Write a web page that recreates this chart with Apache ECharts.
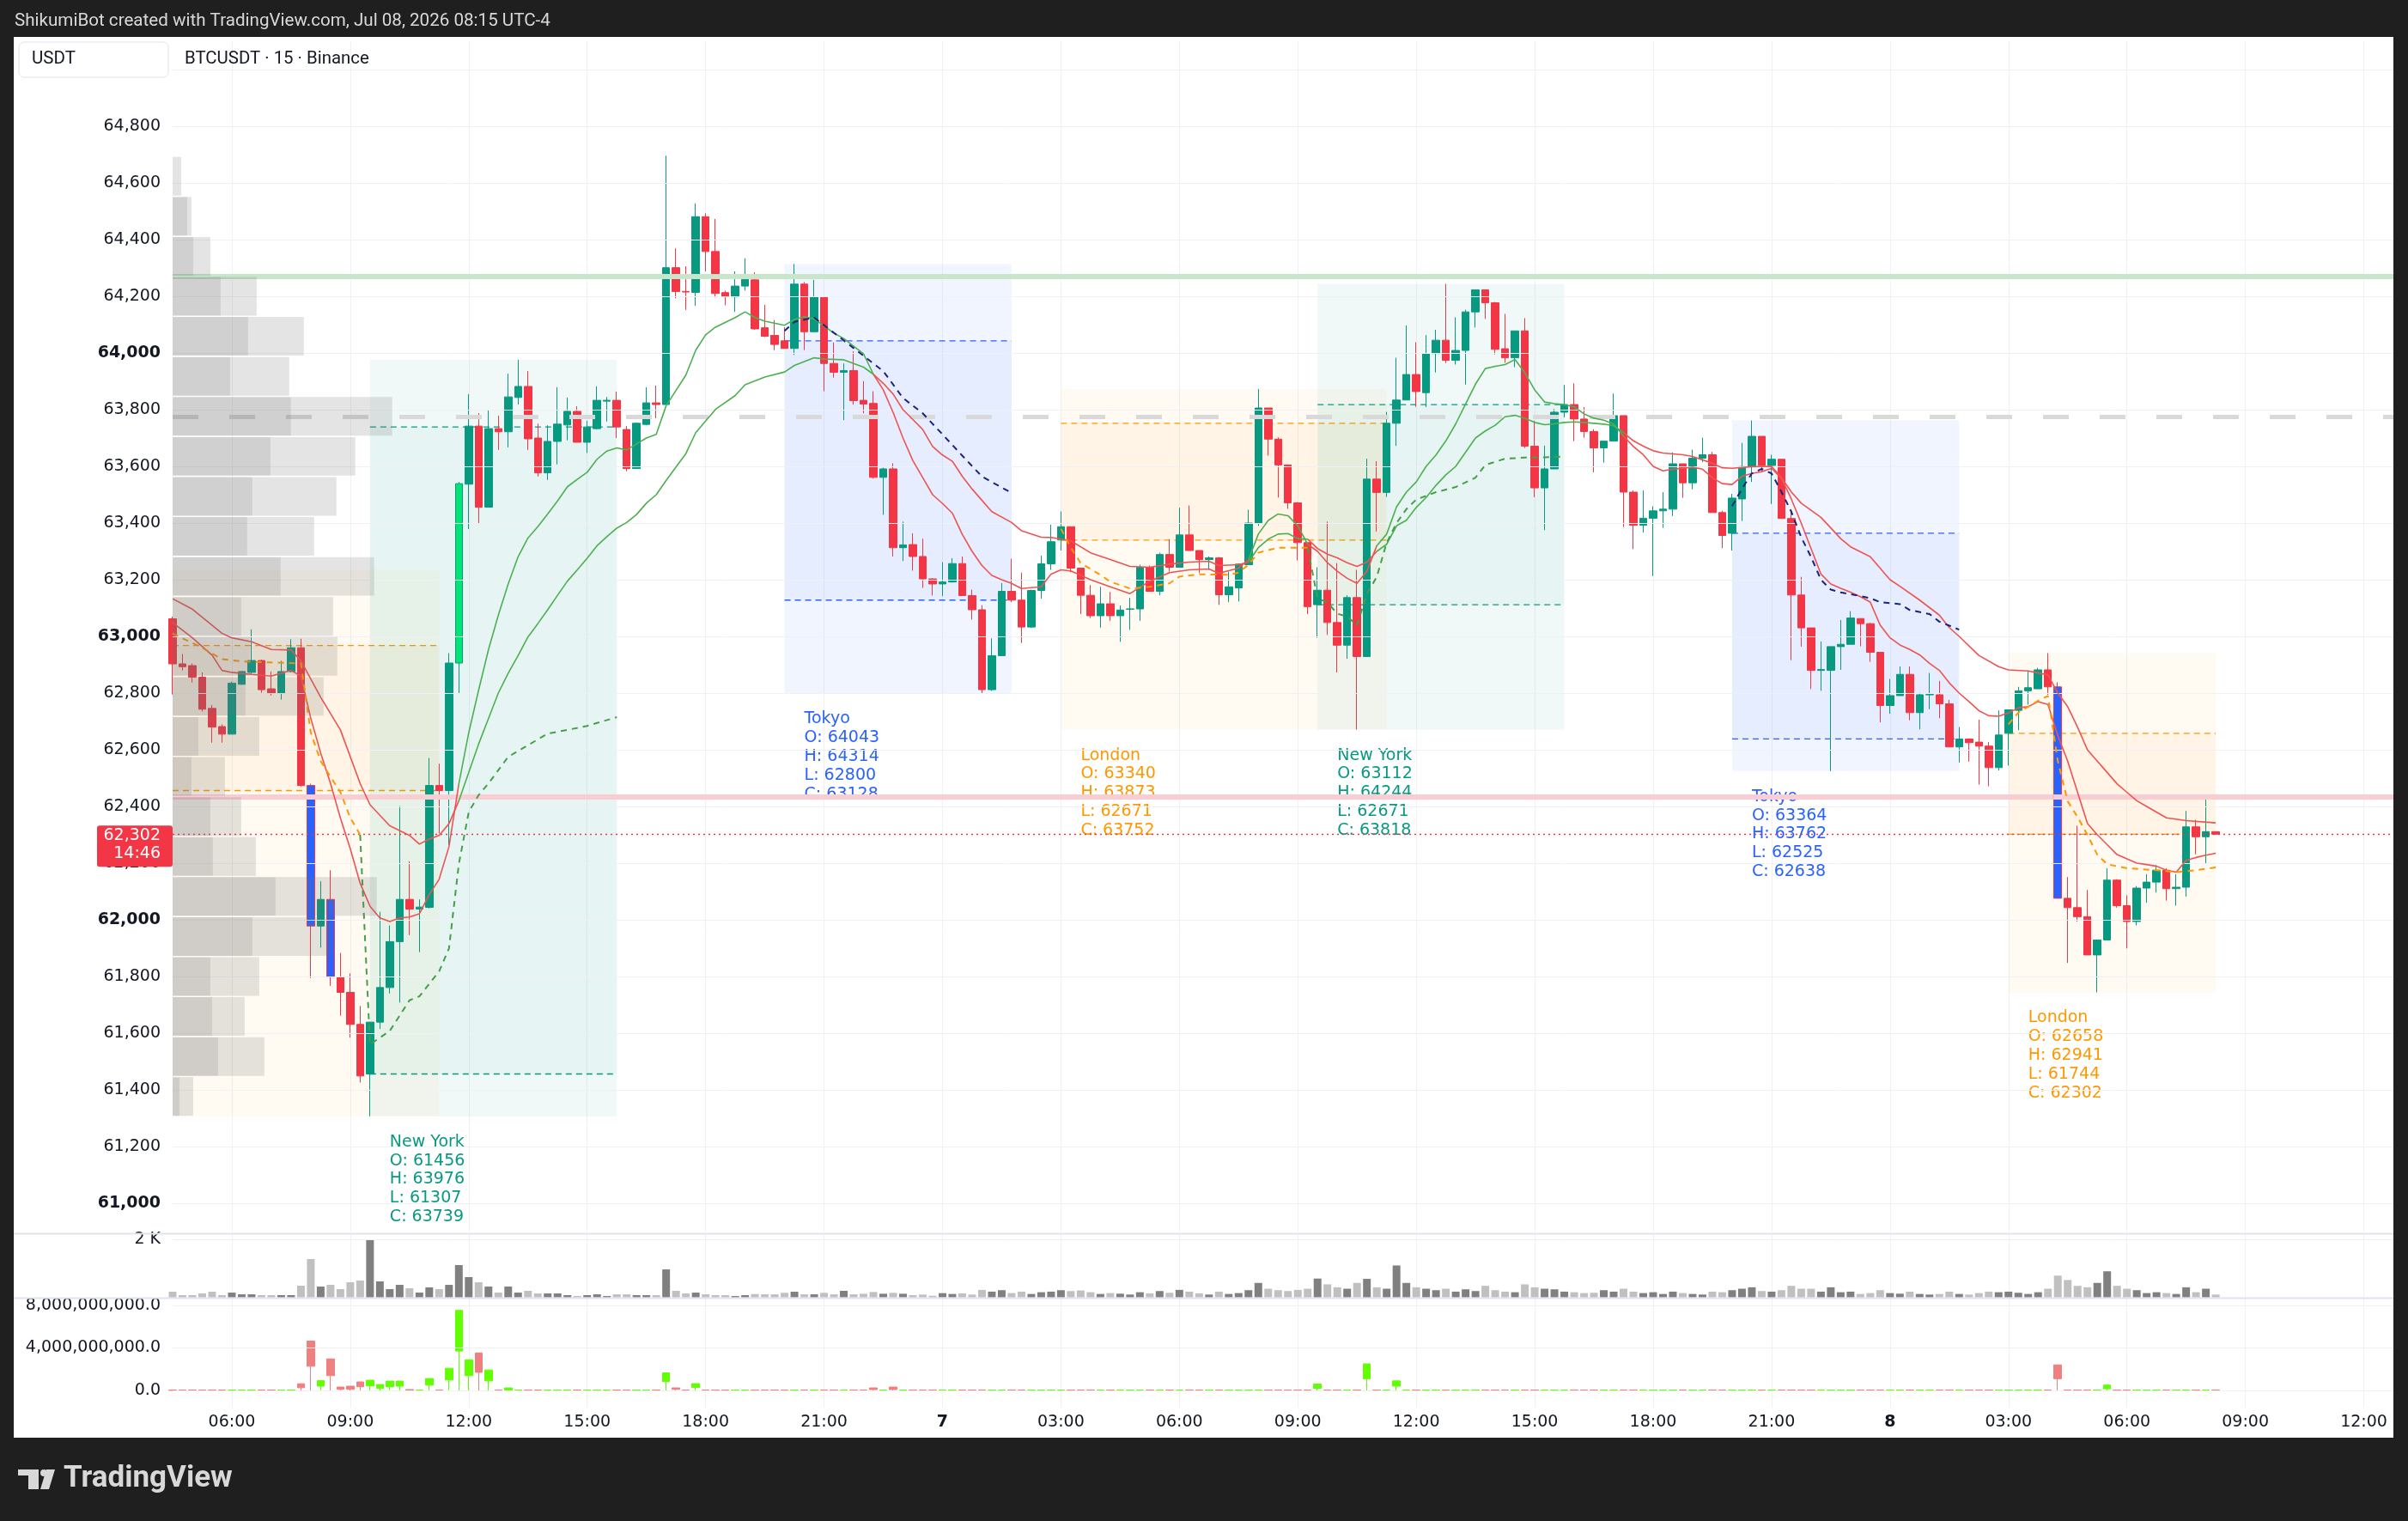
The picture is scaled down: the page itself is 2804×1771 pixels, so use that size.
<!DOCTYPE html>
<html><head><meta charset="utf-8">
<script src="https://cdn.jsdelivr.net/npm/echarts@6/dist/echarts.min.js"></script>
<style>
html,body{margin:0;padding:0;background:#1f1f1f;width:2804px;height:1771px;overflow:hidden}
#paper{position:absolute;left:16px;top:43px;width:2771px;height:1631px;background:#fff}
#chart{position:absolute;left:0;top:0;width:2787px;height:1771px}
</style></head><body>
<div id="paper"></div>
<div id="chart"></div>
<script>
// ---------------- DATA ----------------
// 15-minute bars, bar 0 = Jul 6 04:30 (UTC-4)
const candleOpen = [63062,62903,62897,62856,62746,62682,62655,62831,62873,62915,62815,62799,62876,62960,62474,61978,62072,61798,61744,61631,61456,61639,61761,61923,62072,62038,62044,62474,62456,62906,63537,63742,63456,63733,63722,63843,63882,63700,63577,63688,63746,63794,63685,63733,63830,63833,63730,63592,63748,63824,63818,64301,64217,64214,64481,64358,64213,64198,64236,64258,64089,64062,64043,64016,64243,64075,64197,63963,63932,63938,63833,63822,63561,63591,63313,63324,63282,63203,63185,63192,63257,63144,63094,62812,62932,63159,63128,63033,63162,63256,63340,63387,63241,63145,63073,63115,63073,63096,63097,63244,63159,63289,63244,63358,63303,63271,63277,63147,63171,63253,63400,63806,63696,63605,63471,63331,63112,63163,63049,62969,63137,62929,63555,63508,63752,63834,63924,63860,63998,64045,63974,64009,64145,64223,64177,64015,63983,64078,63671,63524,63591,63791,63818,63767,63723,63665,63689,63779,63509,63392,63417,63443,63449,63609,63542,63629,63641,63437,63364,63485,63599,63706,63603,63625,63416,63146,63030,62880,62880,62964,62972,63063,63045,62944,62756,62791,62866,62731,62794,62794,62762,62610,62638,62627,62613,62537,62658,62739,62808,62815,62882,62822,62076,62043,62011,61876,61929,62140,62050,61994,62112,62133,62175,62110,62115,62328,62293,62311];
const candleClose = [62903,62893,62856,62743,62680,62655,62835,62876,62915,62812,62799,62876,62960,62474,61978,62072,61798,61744,61631,61449,61639,61761,61923,62072,62038,62045,62474,62456,62906,63539,63742,63456,63733,63722,63845,63882,63697,63577,63688,63749,63794,63685,63739,63833,63833,63739,63592,63752,63824,63818,64301,64217,64215,64481,64358,64210,64200,64236,64260,64085,64059,64030,64016,64243,64075,64197,63963,63932,63938,63832,63820,63561,63591,63313,63323,63282,63203,63185,63192,63257,63144,63094,62812,62932,63159,63128,63033,63162,63256,63334,63387,63241,63145,63073,63115,63073,63093,63097,63244,63159,63289,63244,63358,63303,63271,63277,63147,63175,63255,63400,63806,63696,63605,63471,63331,63105,63163,63049,62969,63137,62929,63555,63508,63752,63834,63924,63864,63998,64045,63974,64009,64145,64223,64177,64013,63983,64078,63671,63524,63591,63791,63818,63767,63723,63665,63689,63779,63509,63392,63417,63443,63449,63609,63542,63629,63641,63437,63356,63488,63599,63706,63603,63625,63416,63146,63030,62880,62883,62964,62972,63065,63045,62944,62756,62791,62866,62731,62794,62795,62762,62610,62638,62625,62613,62537,62652,62741,62808,62819,62882,62822,62076,62043,62011,61876,61929,62140,62050,61994,62112,62133,62175,62110,62115,62328,62293,62311,62302];
const candleHigh = [63070,62938,62905,62873,62758,62690,62840,62878,63025,62918,62876,62914,62990,62992,62480,62136,62175,61883,61811,61696,61640,62028,61980,62402,62206,62072,62571,62551,62941,63545,63855,63788,63797,63779,63927,63976,63936,63751,63745,63879,63843,63812,63761,63882,63845,63864,63742,63754,63879,63885,64696,64369,64306,64528,64493,64473,64220,64288,64334,64285,64170,64116,64091,64314,64250,64258,64200,64037,63963,64006,63901,63865,63595,63611,63405,63364,63345,63205,63262,63276,63282,63165,63110,62993,63188,63274,63225,63165,63285,63394,63441,63387,63241,63181,63175,63157,63109,63136,63253,63250,63295,63343,63454,63462,63303,63282,63280,63229,63258,63447,63873,63806,63702,63605,63474,63331,63244,63405,63259,63145,63235,63627,63618,63792,63983,64097,64038,64063,64082,64244,64126,64153,64223,64223,64180,64138,64078,64123,63761,63673,63803,63887,63893,63809,63731,63689,63857,63779,63515,63515,63459,63509,63649,63609,63659,63701,63651,63443,63503,63683,63762,63706,63641,63625,63443,63210,63030,62982,62964,63058,63089,63063,63048,62944,62850,62894,62894,62801,62871,62843,62776,62680,62640,62706,62627,62739,62741,62822,62880,62889,62941,62838,62151,62332,62105,61929,62182,62143,62087,62119,62161,62193,62182,62161,62384,62353,62442,62312];
const candleLow = [62795,62880,62837,62735,62625,62625,62655,62829,62866,62801,62791,62777,62873,62470,61794,61902,61767,61662,61584,61426,61307,61615,61740,61708,61946,61886,62040,62305,62264,62798,63379,63397,63456,63658,63667,63818,63658,63564,63552,63607,63692,63685,63647,63730,63758,63700,63583,63592,63745,63770,63818,64193,64152,64166,64288,64196,64168,64145,64220,64082,64056,64010,64016,63993,64010,64075,63865,63913,63763,63818,63787,63557,63429,63282,63266,63232,63171,63144,63142,63190,63144,63059,62800,62808,62932,63121,62977,63030,63133,63235,63303,63226,63079,63065,63031,63055,62981,63023,63055,63159,63145,63229,63244,63303,63223,63235,63111,63121,63123,63253,63390,63638,63490,63450,63268,63079,62995,63005,62873,62921,62671,62929,63370,63492,63672,63834,63810,63809,63931,63965,63959,63889,64090,64120,63995,63965,63950,63665,63491,63375,63591,63773,63689,63701,63579,63613,63689,63386,63308,63366,63213,63383,63425,63489,63519,63615,63437,63312,63303,63407,63545,63579,63467,63416,62916,62964,62814,62808,62525,62882,62972,62965,62910,62697,62727,62791,62704,62672,62743,62711,62610,62555,62558,62477,62471,62527,62544,62669,62759,62815,62794,62075,61848,61994,61876,61744,61929,62043,61899,61980,62060,62096,62068,62050,62082,62231,62200,62300];
// volume (BTC) per bar
const volume = [197,79,79,138,197,79,167,108,108,79,79,79,79,404,1320,374,433,286,522,581,1970,552,286,433,315,167,345,286,433,1113,700,522,374,167,374,167,227,138,138,138,79,49,79,108,49,108,108,79,79,79,965,227,138,167,108,79,79,49,79,118,108,108,158,197,108,108,158,108,227,108,128,187,128,158,128,79,98,59,148,120,140,100,260,200,250,150,200,120,180,200,250,220,240,180,120,150,130,100,180,140,220,160,260,200,140,100,200,120,150,250,500,300,250,220,260,300,650,450,350,300,500,640,350,300,1100,500,350,300,250,300,200,280,220,400,250,200,180,450,350,300,280,200,180,150,160,250,200,300,200,150,180,120,200,150,120,100,200,180,250,300,350,220,200,250,400,300,300,200,350,180,200,120,150,250,150,130,200,120,100,120,200,120,100,150,200,180,200,160,120,180,300,750,600,400,350,500,900,400,300,250,150,180,150,120,350,180,300,100];
// lower pane (billions): [bar, bodyLow, bodyHigh]; unlisted bars are tiny (~0)
const deltaBars = [[13,0.25,0.63],[14,2.27,4.64],[15,0.4,0.93],[16,1.39,2.96],[17,0.1,0.32],[18,0.1,0.4],[19,0.35,0.8],[20,0.43,0.96],[21,0.19,0.56],[22,0.35,0.88],[23,0.4,0.88],[24,0,0.08],[26,0.5,1.12],[28,0.99,2.08],[29,3.7,7.52],[30,1.39,2.88],[31,1.7,3.52],[32,0.9,1.92],[34,0.03,0.24],[50,0.83,1.65],[51,0.1,0.24],[53,0.27,0.64],[71,0.08,0.24],[73,0.08,0.32],[116,0.2,0.6],[121,1.1,2.5],[124,0.4,0.9],[191,1.1,2.4],[196,0.15,0.5]];
const deltaTiny = 0.04;
// highlighted bars
const blueBars = [14,16,191];
const brightBars = [29];
// moving averages [bar, value]
const maFast = [[0,63049],[2,62995],[4,62934],[5,62880],[6,62873],[8,62866],[10,62860],[12,62880],[13,62860],[14,62711],[15,62589],[16,62481],[17,62359],[18,62251],[19,62129],[20,62048],[21,62007],[22,61994],[23,62007],[24,62010],[25,62021],[26,62089],[27,62143],[28,62258],[29,62480],[30,62660],[31,62810],[32,62953],[33,63075],[34,63185],[35,63281],[36,63347],[37,63387],[38,63432],[39,63478],[40,63528],[41,63554],[42,63579],[43,63625],[44,63654],[45,63665],[46,63658],[47,63679],[48,63700],[49,63713],[50,63814],[51,63868],[52,63922],[53,64010],[54,64064],[55,64091],[57,64125],[58,64145],[59,64125],[60,64112],[62,64098],[63,64118],[64,64128],[65,64120],[66,64095],[67,64070],[68,64051],[69,64024],[70,63997],[71,63925],[72,63870],[73,63790],[74,63700],[75,63620],[76,63560],[77,63500],[78,63469],[79,63435],[80,63360],[81,63300],[82,63250],[83,63215],[84,63200],[85,63187],[86,63169],[88,63175],[89,63220],[90,63235],[91,63231],[93,63200],[95,63175],[97,63151],[99,63195],[101,63225],[103,63235],[105,63238],[106,63223],[108,63241],[109,63270],[110,63361],[111,63409],[112,63432],[113,63426],[114,63390],[115,63325],[116,63300],[117,63260],[118,63230],[119,63205],[120,63187],[121,63230],[122,63320],[123,63361],[124,63457],[125,63509],[126,63545],[127,63600],[128,63640],[129,63690],[130,63750],[131,63820],[132,63890],[133,63945],[134,63953],[135,63959],[136,63977],[137,63930],[138,63870],[139,63827],[140,63821],[141,63818],[142,63810],[143,63785],[144,63770],[145,63763],[146,63749],[147,63707],[148,63670],[149,63641],[150,63600],[151,63584],[152,63590],[153,63593],[154,63597],[155,63590],[156,63560],[157,63539],[158,63536],[159,63565],[160,63575],[161,63581],[162,63593],[163,63557],[164,63485],[165,63400],[166,63310],[167,63220],[168,63185],[169,63170],[170,63156],[171,63140],[172,63121],[173,63040],[174,62995],[175,62970],[176,62954],[177,62935],[178,62905],[179,62880],[180,62836],[181,62800],[182,62770],[183,62738],[184,62720],[185,62718],[186,62730],[187,62748],[188,62752],[189,62770],[190,62760],[191,62650],[192,62560],[193,62450],[194,62340],[195,62300],[196,62265],[197,62230],[198,62215],[199,62200],[200,62195],[201,62189],[202,62175],[203,62168],[204,62210],[205,62220],[206,62228],[207,62235]];
const maSlow = [[0,63133],[2,63096],[5,63011],[6,62995],[8,62981],[10,62954],[12,62952],[13,62914],[15,62785],[17,62670],[19,62481],[20,62406],[22,62332],[24,62298],[25,62267],[26,62285],[27,62298],[28,62339],[29,62420],[30,62520],[31,62620],[32,62710],[33,62800],[34,62870],[35,62932],[36,62998],[37,63045],[38,63094],[39,63145],[40,63195],[41,63235],[42,63276],[43,63320],[44,63352],[45,63382],[46,63402],[47,63430],[48,63470],[49,63500],[50,63550],[51,63598],[52,63645],[53,63719],[54,63760],[55,63801],[57,63850],[58,63888],[60,63915],[62,63933],[63,63956],[65,63983],[66,63979],[68,63976],[70,63950],[71,63925],[72,63893],[73,63855],[74,63800],[75,63765],[76,63730],[77,63670],[78,63640],[79,63618],[80,63565],[81,63520],[82,63480],[83,63440],[85,63402],[86,63373],[88,63350],[89,63349],[91,63337],[93,63295],[95,63271],[97,63247],[99,63244],[101,63255],[103,63262],[105,63265],[106,63250],[108,63253],[109,63262],[110,63313],[111,63343],[112,63361],[113,63363],[114,63345],[115,63343],[116,63310],[117,63290],[118,63277],[119,63260],[120,63247],[121,63262],[122,63300],[123,63325],[124,63390],[125,63410],[126,63455],[127,63490],[128,63533],[129,63570],[130,63600],[131,63650],[132,63700],[133,63725],[134,63745],[135,63775],[136,63780],[137,63770],[138,63755],[139,63747],[140,63750],[141,63755],[142,63757],[143,63755],[144,63752],[145,63749],[146,63743],[147,63719],[148,63690],[149,63671],[150,63655],[151,63647],[153,63641],[154,63635],[156,63611],[157,63595],[158,63593],[160,63599],[162,63600],[163,63560],[164,63510],[165,63470],[166,63445],[167,63420],[169,63345],[170,63316],[172,63281],[174,63200],[175,63177],[177,63128],[179,63075],[180,63031],[181,63000],[183,62933],[185,62893],[186,62882],[188,62878],[190,62864],[191,62800],[192,62752],[193,62680],[194,62600],[195,62560],[196,62520],[197,62480],[198,62450],[199,62420],[200,62400],[202,62360],[204,62350],[207,62342]];
const trendFlips = [28.8, 70.9, 109.2, 114.6, 121.7, 146.5]; // red first, then alternating
// session VWAPs
const vwapLondon1 = [[0,63010],[3,62960],[5,62920],[7,62912],[10,62908],[13,62905],[14,62660],[15,62560],[16,62505],[17,62450],[18,62360],[19,62300]];
const vwapNY1 = [[19,62300],[20,61560],[22,61608],[24,61716],[25,61730],[27,61818],[28,61899],[29,62197],[30,62380],[31,62440],[32,62481],[34,62575],[36,62616],[38,62657],[40,62670],[42,62684],[45,62715]];
const vwapTokyo1 = [[62,64078],[63,64110],[65,64125],[67,64071],[69,64017],[72,63936],[74,63841],[76,63787],[78,63713],[80,63638],[82,63564],[85,63506]];
const vwapLondon2 = [[90,63380],[91,63313],[92,63259],[94,63217],[95,63193],[97,63169],[99,63175],[101,63187],[102,63211],[104,63219],[107,63217],[108,63225],[109,63253],[110,63295],[112,63313],[115,63313]];
const vwapNY2 = [[115,63313],[116,63134],[117,63120],[118,63080],[119,63070],[120,63040],[121,63150],[122,63210],[123,63330],[124,63400],[125,63449],[126,63483],[128,63509],[130,63527],[132,63560],[133,63605],[135,63627],[137,63631],[139,63632],[141,63635]];
const vwapTokyo2 = [[158,63460],[159,63521],[160,63575],[161,63591],[162,63575],[163,63510],[164,63440],[165,63350],[166,63280],[167,63200],[168,63165],[169,63155],[170,63149],[172,63135],[173,63121],[175,63114],[176,63093],[178,63079],[179,63052],[181,63024]];
const vwapLondon3 = [[186,62690],[187,62731],[189,62773],[190,62790],[191,62560],[192,62418],[193,62363],[194,62300],[195,62230],[196,62196],[198,62182],[201,62175],[203,62168],[205,62175],[207,62185]];
// sessions
const sessName  = ['London','New York','Tokyo','London','New York','Tokyo','London'];
const sessType  = ['L','N','T','L','N','T','L'];
const sessStart = [-6,20,62,90,116,158,186];
const sessEnd   = [27,45,85,123,141,181,207];
const sessOpen  = [62968,61456,64043,63340,63112,63364,62658];
const sessHigh  = [63235,63976,64314,63873,64244,63762,62941];
const sessLow   = [61307,61307,62800,62671,62671,62525,61744];
const sessClose = [62456,63739,63128,63752,63818,62638,62302];
// volume profile (24 rows, bottom to top), BTC
const vpLow = 61306, vpHigh = 64694;
const vpDark  = [104,689,598,572,1209,1560,611,572,286,390,1105,1170,1040,1638,1131,1209,1482,1794,871,1144,728,312,221,0];
const vpTotal = [312,1391,1092,1313,2405,3094,1261,1040,793,1313,2288,2496,2431,3055,2145,2483,2769,3328,1768,1989,1274,572,286,130];
// horizontal levels
const levelGreen = 64270, levelPink = 62433;
// axis ticks
const priceTicks = [61000,61200,61400,61600,61800,62000,62200,62400,62600,62800,63000,63200,63400,63600,63800,64000,64200,64400,64600,64800];
const priceGrid = priceTicks.concat([65000]);
const xTickIdx  = [6,18,30,42,54,66,78,90,102,114,126,138,150,162,174,186,198,210,222];
const xTickText = ['06:00','09:00','12:00','15:00','18:00','21:00','7','03:00','06:00','09:00','12:00','15:00','18:00','21:00','8','03:00','06:00','09:00','12:00'];

// ---------------- STYLE ----------------
const UP='#089981', DN='#f23645', GRIDC='#eff1f4', TXT='#131722';
const FONT="'DejaVu Sans', sans-serif";
const MA_RED='#ef5350', MA_GREEN='#4caf50';
const SESS = {
  L:{light:'rgba(255,152,0,0.05)', dark:'rgba(255,152,0,0.055)', line:'#ff9800', text:'#ff9800'},
  N:{light:'rgba(8,153,129,0.06)', dark:'rgba(8,153,129,0.045)', line:'#089981', text:'#089981'},
  T:{light:'rgba(41,98,255,0.065)', dark:'rgba(41,98,255,0.05)', line:'#2962ff', text:'#2962ff'}
};
const VWAPC = {L:'#ff9800', N:'#43a047', T:'#1a237e'};

const catCount = 226;
const categories = [];
for (let i=0;i<catCount;i++){ const m=(4*60+30+i*15)%(24*60); categories.push(String(Math.floor(m/60)).padStart(2,'0')+':'+String(m%60).padStart(2,'0')); }
const tickMap = {}; xTickIdx.forEach((k,j)=>tickMap[k]=xTickText[j]);
const isTick = (i)=> tickMap[i]!==undefined;

const nBars = candleOpen.length;
const lastIdx = nBars-1, lastClose = candleClose[lastIdx];
const candleData = [];
for (let i=0;i<nBars;i++){
  const item = {value:[candleOpen[i],candleClose[i],candleLow[i],candleHigh[i]]};
  if (blueBars.includes(i)) item.itemStyle={color:'#2962ff',color0:'#2962ff',borderColor:DN,borderColor0:DN};
  if (brightBars.includes(i)) item.itemStyle={color:'#00e676',borderColor:UP};
  candleData.push(item);
}
const volData = volume.map((v,i)=>({value:v, itemStyle:{color: candleClose[i]>=candleOpen[i] ? '#808080' : '#c0c0c0'}}));
const deltaMap = {}; deltaBars.forEach(d=>deltaMap[d[0]]=d);
const deltaData = [];
for (let i=0;i<nBars;i++){
  const d = deltaMap[i] || [i,0,deltaTiny];
  const up = candleClose[i]>=candleOpen[i];
  deltaData.push(up ? [d[1]*1e9,d[2]*1e9,0,d[2]*1e9] : [d[2]*1e9,d[1]*1e9,0,d[2]*1e9]);
}
const vpStep = (vpHigh-vpLow)/vpTotal.length;
let pocRow=0; vpTotal.forEach((v,k)=>{ if(v>vpTotal[pocRow]) pocRow=k; });
const pocPrice = vpLow + (pocRow+0.5)*vpStep;
const vpAxisMax = 33657;

const pieces=[]; let prev=null;
for (let k=0;k<=trendFlips.length;k++){
  const p={color: k%2===0?MA_RED:MA_GREEN};
  if(prev!==null) p.gte=prev;
  if(k<trendFlips.length) p.lt=trendFlips[k];
  pieces.push(p); prev=trendFlips[k];
}

const fmt = v => v.toLocaleString('en-US');
const mkX = (gi, show) => ({
  type:'category', gridIndex:gi, data:categories, boundaryGap:false,
  axisLine:{show:false}, axisTick:{show:false},
  axisLabel: show ? {interval:(i)=>isTick(i), formatter:(v,i)=>{const t=tickMap[i]; return t.length<3?'{b|'+t+'}':'{n|'+t+'}';}, margin:8,
      rich:{n:{fontFamily:FONT,fontSize:19,color:TXT}, b:{fontFamily:FONT,fontSize:19,color:TXT,fontWeight:'bold'}}} : {show:false},
  splitLine:{show:true, interval:(i)=>isTick(i), lineStyle:{color:GRIDC,width:1}}
});

const chart = echarts.init(document.getElementById('chart'), null, {renderer:'canvas'});
const vwapSeries = [[vwapLondon1,'L'],[vwapNY1,'N'],[vwapTokyo1,'T'],[vwapLondon2,'L'],[vwapNY2,'N'],[vwapTokyo2,'T'],[vwapLondon3,'L']].map(([d,t])=>({
  type:'line', xAxisIndex:0, yAxisIndex:0, data:d, symbol:'none', z:5, silent:true,
  lineStyle:{color:VWAPC[t], width:2, type:[7,6]}
}));

const option = {
  animation:false,
  backgroundColor:'transparent',
  grid:[
    {left:201, top:48, width:2589, height:1386},
    {left:201, top:1437, width:2589, height:73.7},
    {left:201, top:1509.9, width:2589, height:128.9}
  ],
  xAxis:[ mkX(0,false), mkX(1,false), mkX(2,true), {type:'value', gridIndex:0, min:0, max:vpAxisMax, show:false} ],
  yAxis:[
    {type:'value', gridIndex:0, min:60900, max:65100, interval:100, position:'left',
     axisLine:{show:false}, axisTick:{show:false}, splitLine:{show:false},
     axisLabel:{margin:14, formatter:v=>{ if(!priceTicks.includes(v)) return ''; return v%1000===0?'{b|'+fmt(v)+'}':'{n|'+fmt(v)+'}'; },
       rich:{n:{fontFamily:FONT,fontSize:19,color:TXT}, b:{fontFamily:FONT,fontSize:19,color:TXT,fontWeight:'bold'}}}},
    {type:'value', gridIndex:1, min:0, max:2177, interval:1000, position:'left',
     axisLine:{show:false}, axisTick:{show:false}, splitLine:{show:false},
     axisLabel:{margin:14, fontFamily:FONT, fontSize:19, color:TXT, formatter:v=> v===2000?'2 K':''}},
    {type:'value', gridIndex:2, min:-1.6e9, max:8.8e9, interval:0.4e9, position:'left',
     axisLine:{show:false}, axisTick:{show:false}, splitLine:{show:false},
     axisLabel:{margin:14, fontFamily:FONT, fontSize:19, color:TXT, formatter:v=>{
        if(Math.abs(v-8e9)<1) return '8,000,000,000.0'; if(Math.abs(v-4e9)<1) return '4,000,000,000.0'; if(Math.abs(v)<1) return '0.0'; return '';}}}
  ],
  visualMap:[{type:'piecewise', show:false, dimension:0, seriesIndex:[3,4], pieces:pieces}],
  graphic:[
    {type:'text', x:17, y:25, style:{text:'ShikumiBot created with TradingView.com, Jul 08, 2026 08:15 UTC-4', fill:'#d9d9d9', fontFamily:'Roboto', fontSize:20.6, verticalAlign:'middle'}},
    {type:'rect', shape:{x:22, y:49, width:174, height:41, r:6}, style:{fill:'#fff', stroke:'#e0e3eb', lineWidth:1}, z:10},
    {type:'text', x:37, y:69, style:{text:'USDT', fill:TXT, fontFamily:'Roboto', fontSize:20.5, verticalAlign:'middle'}, z:11},
    {type:'text', x:215, y:69, style:{text:'BTCUSDT · 15 · Binance', fill:TXT, fontFamily:'Roboto', fontSize:20.4, verticalAlign:'middle'}, z:11},
    {type:'line', shape:{x1:16, y1:1436.5, x2:2787, y2:1436.5}, style:{stroke:'#e0e3eb', lineWidth:2}, z:10},
    {type:'line', shape:{x1:16, y1:1511.5, x2:2787, y2:1511.5}, style:{stroke:'#e0e3eb', lineWidth:2}, z:10},
    {type:'rect', shape:{x:21, y:1711, width:24, height:7}, style:{fill:'#d8d8d8'}},
    {type:'rect', shape:{x:33, y:1711, width:12, height:23}, style:{fill:'#d8d8d8'}},
    {type:'circle', shape:{cx:51, cy:1715, r:4}, style:{fill:'#d8d8d8'}},
    {type:'polygon', shape:{points:[[54,1711],[64,1711],[57,1734],[47,1734]]}, style:{fill:'#d8d8d8'}},
    {type:'text', x:74, y:1722, style:{text:'TradingView', fill:'#d8d8d8', fontFamily:'Roboto', fontSize:35, fontWeight:'bold', verticalAlign:'middle'}}
  ],
  series:[
    // 0: horizontal grid lines
    {type:'line', xAxisIndex:0, yAxisIndex:0, data:[[0,63000]], symbol:'none', lineStyle:{opacity:0}, z:0, silent:true,
     markLine:{silent:true, symbol:['none','none'], label:{show:false}, lineStyle:{color:GRIDC, width:1, type:'solid'}, data:priceGrid.map(v=>({yAxis:v}))}},
    // 1: session boxes
    {type:'custom', xAxisIndex:0, yAxisIndex:0, z:1, silent:true,
     data: sessStart.map((s,k)=>[Math.max(s,0), sessHigh[k]]),
     renderItem:(params, api)=>{
       const k = params.dataIndex, st = SESS[sessType[k]];
       const s = Math.max(sessStart[k],0), e = sessEnd[k];
       const tl = api.coord([s, sessHigh[k]]), br = api.coord([e, sessLow[k]]);
       const bt = api.coord([s, Math.max(sessOpen[k],sessClose[k])]), bb = api.coord([e, Math.min(sessOpen[k],sessClose[k])]);
       const yo = api.coord([s, sessOpen[k]])[1], yc = api.coord([s, sessClose[k]])[1];
       const ch = [
         {type:'rect', shape:{x:tl[0], y:tl[1], width:br[0]-tl[0], height:br[1]-tl[1]}, style:{fill:st.light}},
         {type:'rect', shape:{x:tl[0], y:bt[1], width:br[0]-tl[0], height:bb[1]-bt[1]}, style:{fill:st.dark}},
         {type:'line', shape:{x1:tl[0], y1:yo, x2:br[0], y2:yo}, style:{stroke:st.line, lineWidth:1.3, lineDash:[7,5]}},
         {type:'line', shape:{x1:tl[0], y1:yc, x2:br[0], y2:yc}, style:{stroke:st.line, lineWidth:1.3, lineDash:[7,5]}}
       ];
       if (sessStart[k] >= 0) {
         const lines = [sessName[k], 'O: '+sessOpen[k], 'H: '+sessHigh[k], 'L: '+sessLow[k], 'C: '+sessClose[k]];
         lines.forEach((t,j)=>ch.push({type:'text', style:{text:t, x:tl[0]+23, y:br[1]+30+j*21.9, fill:st.text, fontFamily:FONT, fontSize:19, verticalAlign:'middle', align:'left'}}));
       }
       return {type:'group', children:ch};
     }},
    // 2: candles
    {type:'candlestick', xAxisIndex:0, yAxisIndex:0, data:candleData, barWidth:9, z:4, clip:true,
     itemStyle:{color:UP, color0:DN, borderColor:UP, borderColor0:DN, borderWidth:1}},
    // 3,4: trend lines
    {type:'line', xAxisIndex:0, yAxisIndex:0, data:maFast, symbol:'none', z:5, silent:true, lineStyle:{width:1.6}},
    {type:'line', xAxisIndex:0, yAxisIndex:0, data:maSlow, symbol:'none', z:5, silent:true, lineStyle:{width:1.6}},
    ...vwapSeries,
    // volume profile
    {type:'custom', xAxisIndex:3, yAxisIndex:0, z:6, silent:true,
     data: vpTotal.map((t,k)=>[t, vpLow+(k+0.5)*vpStep]),
     renderItem:(params, api)=>{
       const k = params.dataIndex;
       const lo = vpLow+k*vpStep, hi = lo+vpStep;
       const a = api.coord([0,hi]), b = api.coord([vpDark[k],lo]), c = api.coord([vpTotal[k],lo]);
       const y0 = a[1]+0.8, h = b[1]-a[1]-1.6;
       return {type:'group', children:[
         {type:'rect', shape:{x:a[0], y:y0, width:b[0]-a[0], height:h}, style:{fill:'rgba(110,110,110,0.32)'}},
         {type:'rect', shape:{x:b[0], y:y0, width:c[0]-b[0], height:h}, style:{fill:'rgba(110,110,110,0.19)'}}
       ]};
     }},
    // level lines
    {type:'line', xAxisIndex:0, yAxisIndex:0, data:[[0,63000]], symbol:'none', lineStyle:{opacity:0}, z:7, silent:true,
     markLine:{silent:true, symbol:['none','none'], label:{show:false}, data:[
       {yAxis:levelGreen, lineStyle:{color:'#c8e6c9', width:6, type:'solid'}},
       {yAxis:levelPink, lineStyle:{color:'#facdd2', width:6, type:'solid'}},
       {yAxis:pocPrice, lineStyle:{color:'#d9d9d9', width:5, type:[30,36]}},
       {yAxis:lastClose, lineStyle:{color:DN, width:1.4, type:[2,4]}}
     ]}},
    // price tag
    {type:'custom', xAxisIndex:0, yAxisIndex:0, z:9, silent:true, data:[[lastIdx,lastClose]],
     renderItem:(params, api)=>{
       const p = api.coord([lastIdx, lastClose]);
       return {type:'group', children:[
         {type:'rect', shape:{x:113, y:p[1]-10, width:88, height:48, r:3}, style:{fill:DN}},
         {type:'text', style:{text:fmt(lastClose), x:187, y:p[1]+2, fill:'#fff', fontFamily:FONT, fontSize:19, align:'right', verticalAlign:'middle'}},
         {type:'text', style:{text:'14:46', x:187, y:p[1]+23, fill:'#fff', fontFamily:FONT, fontSize:19, align:'right', verticalAlign:'middle'}}
       ]};
     }},
    // volume
    {type:'bar', xAxisIndex:1, yAxisIndex:1, data:volData, barWidth:9, z:3, silent:true},
    {type:'line', xAxisIndex:1, yAxisIndex:1, data:[[0,0]], symbol:'none', lineStyle:{opacity:0}, z:0, silent:true,
     markLine:{silent:true, symbol:['none','none'], label:{show:false}, lineStyle:{color:GRIDC,width:1,type:'solid'}, data:[{yAxis:2000}]}},
    // lower pane
    {type:'candlestick', xAxisIndex:2, yAxisIndex:2, data:deltaData, barWidth:9, z:3, silent:true,
     itemStyle:{color:'#62ff00', color0:'#f07f7f', borderColor:'#62ff00', borderColor0:'#f07f7f', borderWidth:1}},
    {type:'line', xAxisIndex:2, yAxisIndex:2, data:[[0,0]], symbol:'none', lineStyle:{opacity:0}, z:0, silent:true,
     markLine:{silent:true, symbol:['none','none'], label:{show:false}, lineStyle:{color:GRIDC,width:1,type:'solid'}, data:[{yAxis:0},{yAxis:4e9},{yAxis:8e9}]}}
  ]
};
chart.setOption(option);
</script>
</body></html>
